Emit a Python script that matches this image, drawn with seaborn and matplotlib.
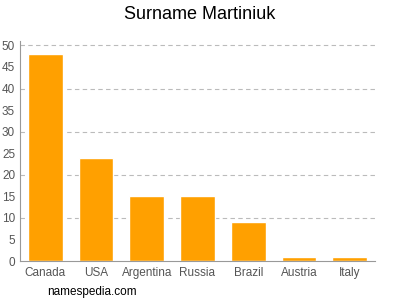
import matplotlib
matplotlib.use("Agg")
import matplotlib.pyplot as plt
import seaborn as sns
import pandas as pd

countries = ["Canada", "USA", "Argentina", "Russia", "Brazil", "Austria", "Italy"]
counts = [48, 24, 15, 15, 9, 1, 1]
yticks = [0, 5, 10, 15, 20, 25, 30, 35, 40, 45, 50]
grid_values = [10, 20, 30, 40, 50]

sns.set_style("white")
plt.rcParams['font.family'] = ['Liberation Sans', 'DejaVu Sans']

df = pd.DataFrame({"country": countries, "count": counts})

fig = plt.figure(figsize=(4, 3), dpi=100)
ax = fig.add_axes([0.05, 0.13, 0.8875, 0.733])
sns.barplot(data=df, x="country", y="count", color="#FFA000", saturation=1,
            width=0.686, ax=ax)
ax.set_xlim(-0.5, len(countries) - 0.5)
ax.set_ylim(0, 51)
ax.set_yticks(yticks)
for g in grid_values:
    ax.axhline(g, color="#bbbbbb", linestyle=(0, (4, 3)), linewidth=0.8, zorder=0)
ax.set_xlabel("")
ax.set_ylabel("")
for s in ["top", "right"]:
    ax.spines[s].set_visible(False)
for s in ["left", "bottom"]:
    ax.spines[s].set_color("#999999")
    ax.spines[s].set_linewidth(0.8)
ax.tick_params(axis="both", colors="#999999", labelcolor="#555555", labelsize=8.5,
               length=2.5, width=0.8, pad=1.5)
ax.tick_params(axis="y", pad=1)
ax.set_axisbelow(True)
fig.text(0.5, 0.953, "Surname Martiniuk", ha="center", va="center", fontsize=13, color="#000000")
fig.text(0.118, 0.027, "namespedia.com", ha="left", va="center", fontsize=8.5, color="#000000")
fig.savefig("out.png", dpi=100)
